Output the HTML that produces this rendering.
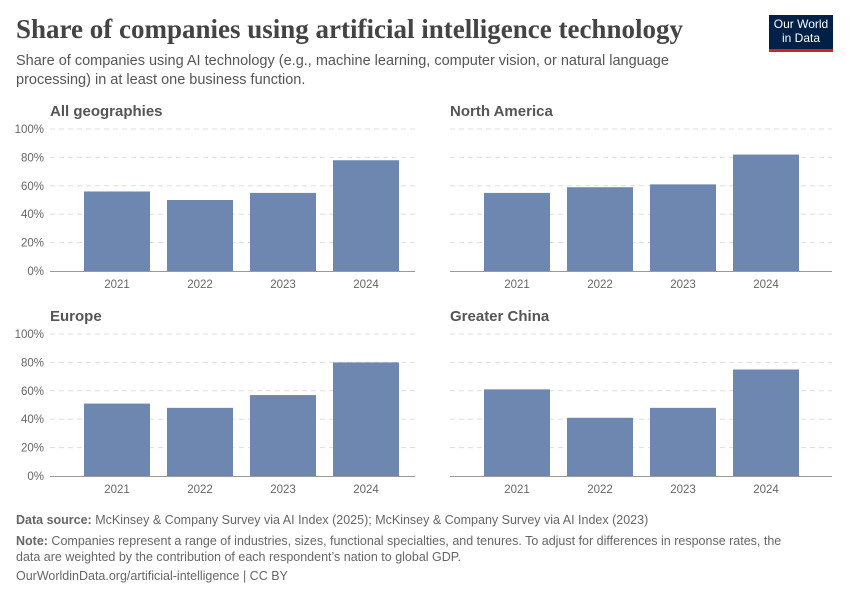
<!DOCTYPE html>
<html><head><meta charset="utf-8">
<style>
body{margin:0;width:850px;height:600px;background:#fff;font-family:"Liberation Sans",sans-serif;overflow:hidden;position:relative}
.t{position:absolute;white-space:nowrap}
</style></head><body>
<div class="t" style="left:16px;top:14px;font-family:'Liberation Serif',serif;font-size:27px;font-weight:bold;color:#444">Share of companies using artificial intelligence technology</div>
<div class="t" style="left:16px;top:52px;font-size:14.5px;color:#555;line-height:19px">Share of companies using AI technology (e.g., machine learning, computer vision, or natural language<br>processing) in at least one business function.</div>
<div style="position:absolute;left:769px;top:15px;width:64px;height:37px;background:#002147;border-bottom:3px solid #ce261e;color:#fff;font-size:12px;line-height:14px;text-align:center;padding-top:2px;box-sizing:border-box">Our World<br>in Data</div>
<svg id="c" width="850" height="600" style="position:absolute;left:0;top:0"></svg>
<div class="t" style="left:16px;top:513px;font-size:12.5px;color:#666"><b>Data source:</b> McKinsey &amp; Company Survey via AI Index (2025); McKinsey &amp; Company Survey via AI Index (2023)</div>
<div class="t" style="left:16px;top:533px;font-size:12.5px;color:#666;line-height:16px"><b>Note:</b> Companies represent a range of industries, sizes, functional specialties, and tenures. To adjust for differences in response rates, the<br>data are weighted by the contribution of each respondent’s nation to global GDP.</div>
<div class="t" style="left:16px;top:569px;font-size:12.5px;color:#666">OurWorldinData.org/artificial-intelligence | CC BY</div>
<script>
const years=["2021","2022","2023","2024"];
const regions=["All geographies","North America","Europe","Greater China"];
const allGeo=[56,50,55,78];
const northAmerica=[55,59,61,82];
const europe=[51,48,57,80];
const china=[61,41,48,75];
const yTicks=[0,20,40,60,80,100];
const series=[allGeo,northAmerica,europe,china];
const svg=document.getElementById('c');
const NS='http://www.w3.org/2000/svg';
function mk(tag,attrs,txt){const e=document.createElementNS(NS,tag);for(const k in attrs)e.setAttribute(k,attrs[k]);if(txt!=null)e.textContent=txt;svg.appendChild(e);return e;}
const panels=[{x0:50,x1:415,base:271,top:129,tx:50,ty:116,lab:true},{x0:450,x1:832,base:271,top:129,tx:450,ty:116,lab:false},{x0:50,x1:415,base:476,top:334,tx:50,ty:321,lab:true},{x0:450,x1:832,base:476,top:334,tx:450,ty:321,lab:false}];
panels.forEach((p,pi)=>{
  const y=v=>p.base-(p.base-p.top)*v/100;
  const x=i=>p.x0+67+83*i;
  let t=mk('text',{x:p.tx,y:p.ty,'font-size':15,'font-weight':'bold',fill:'#555','font-family':'Liberation Sans'},regions[pi]);
  
  yTicks.forEach(v=>{
    if(v>0){const g=mk('line',{x1:p.x0,x2:p.x1,y1:y(v),y2:y(v),stroke:'#ddd','stroke-dasharray':'5,4'});
    }
    if(p.lab){const l=mk('text',{x:44,y:y(v)+4,'text-anchor':'end','font-size':11.5,fill:'#666','font-family':'Liberation Sans'},v+'%');
    }
  });
  series[pi].forEach((v,i)=>{
    const r=mk('rect',{x:x(i)-33,y:y(v),width:66,height:p.base-y(v),fill:'#6d87b0'});
    
    const l=mk('text',{x:x(i),y:p.base+17,'text-anchor':'middle','font-size':11.5,fill:'#666','font-family':'Liberation Sans'},years[i]);
    
  });
  const a=mk('line',{x1:p.x0,x2:p.x1,y1:p.base+0.5,y2:p.base+0.5,stroke:'#999'});
  
});
</script>
</body></html>
